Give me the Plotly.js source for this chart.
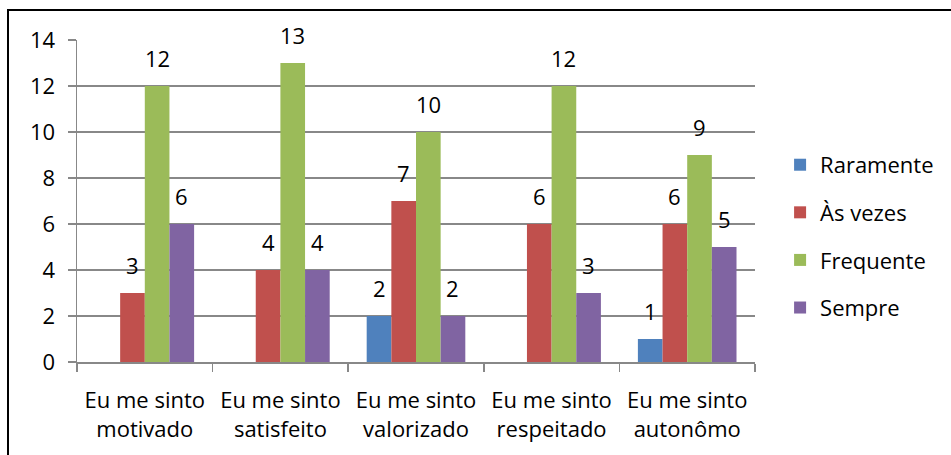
<!DOCTYPE html>
<html>
<head>
<meta charset="utf-8">
<script src="https://cdn.plot.ly/plotly-3.0.1.min.js"></script>
<style>
  html, body { margin: 0; padding: 0; background: #fff; }
  #wrap { position: relative; width: 951px; height: 455px; overflow: hidden; }
  #chart { position: absolute; left: 0; top: 0; width: 951px; height: 455px; }
  #frame { position: absolute; left: 7px; top: 9px; width: 960px; height: 460px;
           border-top: 2px solid #000; border-left: 2px solid #000; pointer-events: none; }
</style>
</head>
<body>
<div id="wrap">
  <div id="chart"></div>
  <div id="frame"></div>
</div>
<script>
const categories = [
  "Eu me sinto<br>motivado",
  "Eu me sinto<br>satisfeito",
  "Eu me sinto<br>valorizado",
  "Eu me sinto<br>respeitado",
  "Eu me sinto<br>autonômo"
];
const seriesNames = ["Raramente", "Às vezes", "Frequente", "Sempre"];
const raramente = [null, null, 2, null, 1];
const asVezes   = [3, 4, 7, 6, 6];
const frequente = [12, 13, 10, 12, 9];
const sempre    = [6, 4, 2, 3, 5];
const yTicks = [0, 2, 4, 6, 8, 10, 12, 14];

const seriesValues = [raramente, asVezes, frequente, sempre];
const colors = ["#4F81BD", "#C0504D", "#9BBB59", "#8064A2"];
const FONT = "Open Sans, sans-serif";
const FS = 22;
const bargap = 1.5 / 5.5;

const traces = seriesValues.map((vals, k) => ({
  type: "bar",
  name: seriesNames[k],
  x: categories,
  y: vals,
  marker: { color: colors[k] },
  legendgroup: "g" + k,
  hoverinfo: "none"
}));

// Data labels placed above each bar, positioned through the category axis
const nS = seriesValues.length;
const barW = (1 - bargap) / nS;
const annotations = [];
seriesValues.forEach((vals, k) => {
  vals.forEach((v, i) => {
    if (v === null || v === undefined) return;
    annotations.push({
      xref: "x", yref: "y",
      x: i + (k - (nS - 1) / 2) * barW,
      y: v,
      text: String(v),
      showarrow: false,
      yanchor: "bottom",
      yshift: 11,
      font: { family: FONT, size: FS, color: "#000" }
    });
  });
});

const gridColor = "#888888";
const layout = {
  width: 951, height: 455,
  margin: { l: 77, r: 196, t: 40, b: 93 },
  paper_bgcolor: "#fff",
  plot_bgcolor: "#fff",
  barmode: "group",
  bargap: bargap,
  bargroupgap: 0,
  font: { family: FONT, size: FS, color: "#000" },
  showlegend: true,
  legend: {
    x: 1.037, xanchor: "left",
    y: 0.39, yanchor: "middle",
    font: { family: FONT, size: FS, color: "#000" },
    tracegroupgap: 16,
    traceorder: "grouped",
    bgcolor: "rgba(0,0,0,0)"
  },
  xaxis: {
    type: "category",
    showgrid: false,
    showline: true, linecolor: gridColor, linewidth: 1.5,
    ticks: "outside", ticklen: 8, tickcolor: gridColor, tickwidth: 1.5,
    tickson: "boundaries",
    tickfont: { family: FONT, size: FS, color: "#000" },
    ticklabelstandoff: 18,
    fixedrange: true
  },
  yaxis: {
    range: [0, 14],
    tickvals: yTicks,
    ticktext: yTicks.map(String),
    showgrid: true, gridcolor: gridColor, gridwidth: 1.5,
    zeroline: false,
    showline: true, linecolor: gridColor, linewidth: 1.5,
    ticks: "outside", ticklen: 8, tickcolor: gridColor, tickwidth: 1.5,
    tickfont: { family: FONT, size: FS, color: "#000" },
    ticklabelstandoff: 8,
    fixedrange: true
  },
  annotations: annotations
};

Plotly.newPlot("chart", traces, layout, { displayModeBar: false, staticPlot: true });
</script>
</body>
</html>
